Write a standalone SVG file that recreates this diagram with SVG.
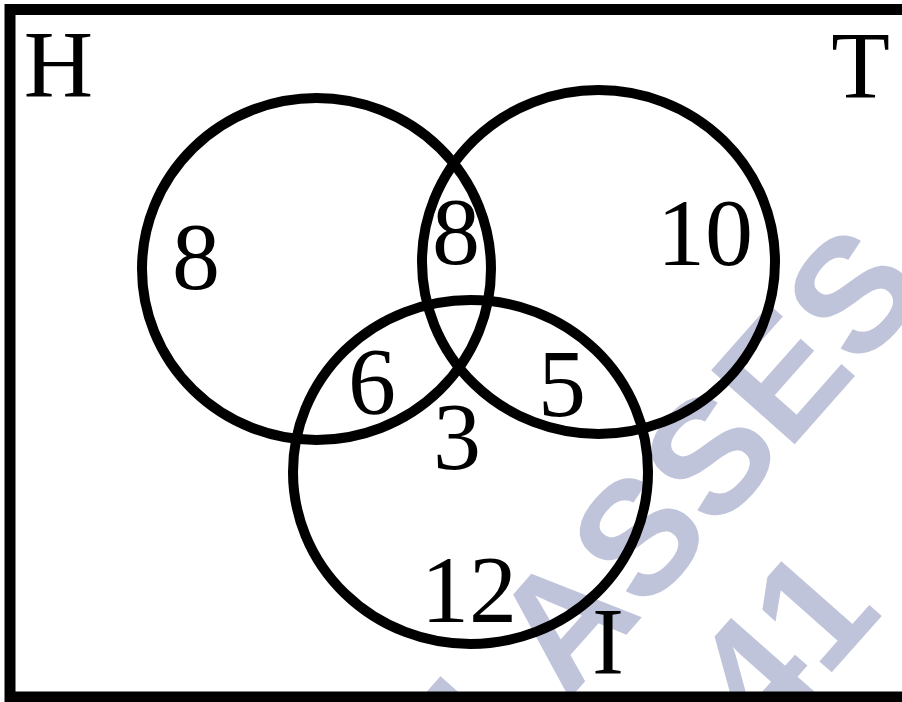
<svg xmlns="http://www.w3.org/2000/svg" width="902" height="702" viewBox="0 0 902 702">
<style>
.set{fill:none;stroke:#000;stroke-width:10}
.lbl{font-family:"Liberation Serif","Times New Roman",serif;font-size:96px;fill:#000;text-anchor:middle}
.wm{font-family:"Liberation Sans",Arial,sans-serif;font-weight:bold;font-size:162px;fill:#c0c4da}
</style>
<rect x="0" y="0" width="902" height="702" fill="#fff"/>
<g id="watermark" transform="translate(423.8,863.4) rotate(-48.5)">
<text class="wm" x="0" y="0">CLASSES</text>
<text class="wm" x="313" y="179">41</text>
</g>
<rect id="universe" x="10" y="9.5" width="920" height="687.5" fill="none" stroke="#000" stroke-width="11"/>
<g id="set-H"><ellipse class="set" cx="316.5" cy="269" rx="174.5" ry="171"/></g>
<g id="set-T"><ellipse class="set" cx="598.5" cy="262" rx="176.5" ry="172"/></g>
<g id="set-I"><ellipse class="set" cx="470.5" cy="472" rx="177.5" ry="172"/></g>
<g id="labels">
<text class="lbl" x="58.5" y="97">H</text>
<text class="lbl" x="860.5" y="98">T</text>
<text class="lbl" x="608" y="674">I</text>
<text class="lbl" x="196" y="289">8</text>
<text class="lbl" x="456" y="264">8</text>
<text class="lbl" x="705" y="265">10</text>
<text class="lbl" x="372" y="414">6</text>
<text class="lbl" x="562" y="416">5</text>
<text class="lbl" x="457" y="469">3</text>
<text class="lbl" x="469" y="622">12</text>
</g>
</svg>
